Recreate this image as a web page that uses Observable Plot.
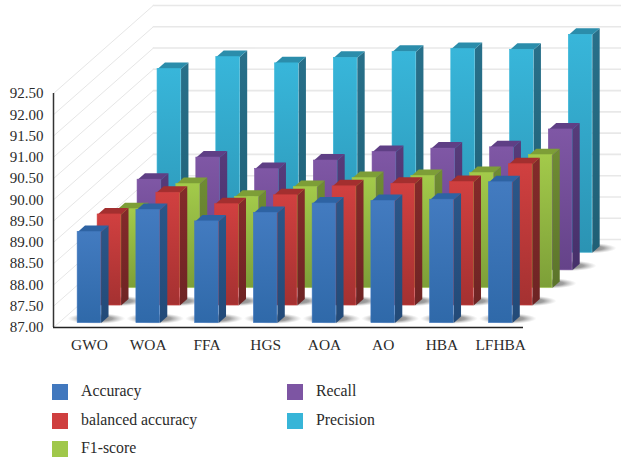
<!DOCTYPE html>
<html>
<head>
<meta charset="utf-8">
<script src="https://cdn.jsdelivr.net/npm/d3@7"></script>
<script src="https://cdn.jsdelivr.net/npm/@observablehq/plot@0.6"></script>
<style>
  html, body { margin: 0; background: #fff; }
  #chart svg { display: block; }
  #legend {
    display: grid;
    grid-auto-flow: column;
    grid-template-rows: repeat(3, 16px);
    grid-template-columns: 235px 235px;
    row-gap: 12.5px;
    padding: 24px 0 0 52px;
    font: 15.8px "Liberation Serif", serif;
    color: #2b2b2b;
  }
  #legend div { display: flex; align-items: center; white-space: nowrap; }
  #legend i { width: 16px; height: 16px; margin-right: 13px; flex: none; }
  #legend span { position: relative; top: -1px; }
</style>
</head>
<body>
<div id="chart"></div>
<div id="legend"></div>
<script>
const categories = ["GWO", "WOA", "FFA", "HGS", "AOA", "AO", "HBA", "LFHBA"];
const seriesNames = ["Accuracy", "balanced accuracy", "F1-score", "Recall", "Precision"];
const accuracy = [89.14, 89.66, 89.39, 89.59, 89.81, 89.87, 89.90, 90.31];
const balancedAccuracy = [89.14, 89.65, 89.38, 89.59, 89.80, 89.86, 89.90, 90.32];
const f1Score = [88.85, 89.44, 89.14, 89.37, 89.58, 89.63, 89.70, 90.12];
const recall = [89.13, 89.65, 89.38, 89.58, 89.78, 89.86, 89.89, 90.31];
const precision = [91.32, 91.60, 91.45, 91.58, 91.72, 91.79, 91.77, 92.12];
const gridLevels = [87, 87.5, 88, 88.5, 89, 89.5, 90, 90.5, 91, 91.5, 92, 92.5];

const seriesValues = [accuracy, balancedAccuracy, f1Score, recall, precision];

// front, side and top shades of each series, light end then dark end
const palette = [
  {swatch: "#4178be", front: ["#437bc0", "#2f69a9"], side: ["#2b5688", "#224a78"], top: "#2e63a3"},
  {swatch: "#cf3f3f", front: ["#d14040", "#a43131"], side: ["#842a2a", "#6e2424"], top: "#a32f2f"},
  {swatch: "#a0c84a", front: ["#a3ca4a", "#7d9f38"], side: ["#6f8c33", "#5c742b"], top: "#7d9e37"},
  {swatch: "#7d55a3", front: ["#7f57a5", "#654389"], side: ["#573b7a", "#46306a"], top: "#5f3f85"},
  {swatch: "#37b5d8", front: ["#38b6da", "#2b93b3"], side: ["#28708a", "#1f5f75"], top: "#2b8dab"}
];

// Oblique projection: each unit of depth moves a point right and up
const depthX = 0.34;
const depthY = 0.4136;
const depthSlots = 5;
const px = (c, z) => c + z * depthX;
const py = (v, z) => v + z * depthY;

const barStart = 0.326;
const barWidth = 0.4;
const barDepth = 0.37;
const barNear = 0.25;
const labelOffset = 0.612;
const baseline = gridLevels[0];
const topLevel = gridLevels[gridLevels.length - 1];

const bars = seriesValues.map((values, s) => values.map((value, c) => {
  const x0 = c + barStart, x1 = x0 + barWidth, z0 = s + barNear, z1 = z0 + barDepth;
  return {s, c, value, x0, x1, z0, z1};
}));

function sidePolygon(b) {
  return [[b.x1, baseline, b.z0], [b.x1, baseline, b.z1], [b.x1, b.value, b.z1], [b.x1, b.value, b.z0]]
    .map(([x, v, z]) => ({id: b.c, x: px(x, z), y: py(v, z)}));
}
function topPolygon(b) {
  return [[b.x0, b.value, b.z0], [b.x0, b.value, b.z1], [b.x1, b.value, b.z1], [b.x1, b.value, b.z0]]
    .map(([x, v, z]) => ({id: b.c, x: px(x, z), y: py(v, z)}));
}

function gradients() {
  const ns = "http://www.w3.org/2000/svg";
  const defs = document.createElementNS(ns, "defs");
  const linear = (id, [a, b]) => {
    const g = document.createElementNS(ns, "linearGradient");
    g.setAttribute("id", id);
    g.setAttribute("x1", 0); g.setAttribute("y1", 0);
    g.setAttribute("x2", 0); g.setAttribute("y2", 1);
    [[0, a], [1, b]].forEach(([o, c]) => {
      const st = document.createElementNS(ns, "stop");
      st.setAttribute("offset", o);
      st.setAttribute("stop-color", c);
      g.appendChild(st);
    });
    defs.appendChild(g);
  };
  palette.forEach((p, s) => {
    linear(`front${s}`, p.front);
    linear(`side${s}`, p.side);
  });
  const shadow = document.createElementNS(ns, "radialGradient");
  shadow.setAttribute("id", "floorShadow");
  [[0, "#555", 0.8], [0.55, "#666", 0.62], [1, "#999", 0]].forEach(([o, c, a]) => {
    const st = document.createElementNS(ns, "stop");
    st.setAttribute("offset", o);
    st.setAttribute("stop-color", c);
    st.setAttribute("stop-opacity", a);
    shadow.appendChild(st);
  });
  defs.appendChild(shadow);
  return defs;
}

const seriesMarks = d3.range(seriesValues.length - 1, -1, -1).flatMap((s) => {
  const row = bars[s];
  return [
    Plot.line(row.flatMap(sidePolygon), {x: "x", y: "y", z: "id", fill: `url(#side${s})`, stroke: "none", curve: "linear-closed"}),
    Plot.line(row.flatMap(topPolygon), {x: "x", y: "y", z: "id", fill: palette[s].top, stroke: "none", curve: "linear-closed"}),
    Plot.rect(row, {
      x1: (b) => px(b.x0, b.z0), x2: (b) => px(b.x1, b.z0),
      y1: (b) => py(baseline, b.z0), y2: (b) => py(b.value, b.z0),
      fill: `url(#front${s})`, stroke: palette[s].swatch, strokeWidth: 0.6
    })
  ];
});

const shadowRows = bars.flat();

const chart = Plot.plot({
  width: 621,
  height: 360,
  marginLeft: 53,
  marginRight: 0,
  marginTop: 0,
  marginBottom: 33,
  x: {domain: [0, 568 / 58.75], range: [53, 621]},
  y: {domain: [87, 87 + 327 / 42.55], range: [327, 0]},
  style: {fontFamily: "'Liberation Serif', serif", fontSize: "15px", color: "#2b2b2b", background: "#fff"},
  marks: [
    gradients,
    // side wall and back wall rules at each level
    Plot.line(gridLevels.flatMap((v) => [0, depthSlots].map((z) => ({v, x: px(0, z), y: py(v, z)}))),
      {x: "x", y: "y", z: "v", stroke: "#e6e6e6", strokeWidth: 1}),
    Plot.line(gridLevels.flatMap((v) => [0, categories.length].map((c) => ({v, x: px(c, depthSlots), y: py(v, depthSlots)}))),
      {x: "x", y: "y", z: "v", stroke: "#e8e8e8", strokeWidth: 1.6}),
    // soft contact shadows on the floor
    Plot.rect(shadowRows, {
      x1: (b) => px(b.x0, b.z0) - 0.16, x2: (b) => px(b.x1, b.z0) + 0.42,
      y1: (b) => py(baseline, b.z0) - 0.03, y2: (b) => py(baseline, b.z0) + 0.22,
      fill: "url(#floorShadow)"
    }),
    ...seriesMarks,
    Plot.ruleX([0], {y1: baseline, y2: topLevel, stroke: "#333", strokeWidth: 1.5}),
    Plot.ruleY([baseline], {x1: 0, x2: categories.length, stroke: "#222", strokeWidth: 1.5}),
    Plot.axisY({ticks: gridLevels, tickFormat: (d) => d.toFixed(2), tickSize: 0, tickPadding: 10, label: null}),
    Plot.axisX({
      ticks: categories.map((_, i) => i + labelOffset),
      tickFormat: (d) => categories[Math.round(d - labelOffset)],
      tickSize: 0, tickPadding: 12, label: null, fontSize: 15.4
    })
  ]
});
document.getElementById("chart").appendChild(chart);

const legend = document.getElementById("legend");
seriesNames.forEach((name, s) => {
  const item = document.createElement("div");
  const swatch = document.createElement("i");
  swatch.style.background = palette[s].swatch;
  const text = document.createElement("span");
  text.textContent = name;
  item.append(swatch, text);
  legend.appendChild(item);
});
</script>
</body>
</html>
